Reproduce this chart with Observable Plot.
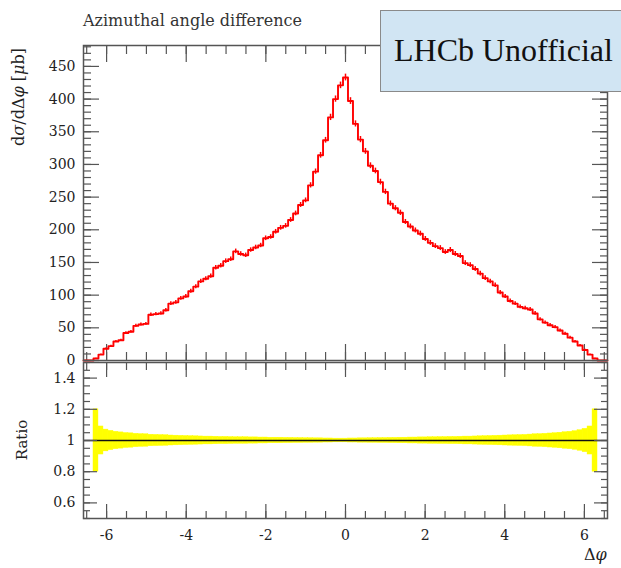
<!DOCTYPE html>
<html><head><meta charset="utf-8">
<script src="https://cdn.jsdelivr.net/npm/d3@7"></script>
<script src="https://cdn.jsdelivr.net/npm/@observablehq/plot@0.6"></script>
<style>
body{margin:0;background:#fff;}
#c{position:relative;width:621px;height:568px;overflow:hidden;font-family:"DejaVu Serif",serif;color:#222;}
#c svg{position:absolute;left:0;background:transparent;}
.lbl{position:absolute;white-space:nowrap;line-height:1;}
.rot{transform:translate(-50%,-50%) rotate(-90deg);}
#lhcb{position:absolute;left:380px;top:10px;width:260px;height:82px;background:#d1e5f3;border:1.5px solid #8a8a8a;box-sizing:border-box;font-family:"Liberation Serif",serif;font-size:32px;color:#111;padding-left:13px;line-height:79px;}
</style></head><body><div id="c"></div>
<script>
// ---- data ----
const title = "Azimuthal angle difference";
const xRange = [-6.58, 6.58];
const nBins = 105;
const xsec = [0, 0,
  3, 9, 18, 22, 29, 31, 42, 44, 53, 55, 56, 70, 71, 72, 77, 87, 89, 95, 98, 106,
  113, 121, 125, 129, 142, 145, 152, 155, 167, 163, 161, 169, 173, 176, 187, 189, 197, 203, 206, 215,
  225, 238, 245, 268, 289, 314, 337, 372, 400, 421,
  433,
  397, 362, 338, 320, 298, 290, 273, 258, 240, 233, 226, 212, 205, 199, 194, 186, 180, 175, 172, 166,
  169, 163, 160, 149, 146, 140, 133, 126, 121, 115, 104, 98, 91, 87, 82, 80, 78, 72, 63, 58,
  54, 51, 46, 41, 35, 29, 23, 16, 9, 3,
  0, 0];
const relErr = [null, null,
  0.20, 0.09, 0.07, 0.062, 0.056, 0.052, 0.048, 0.046, 0.043, 0.041, 0.040, 0.037, 0.036, 0.035, 0.034,
  0.032, 0.031, 0.030, 0.029, 0.028, 0.027, 0.026, 0.025, 0.025, 0.024, 0.023, 0.023, 0.022, 0.021, 0.021,
  0.021, 0.020, 0.020, 0.019, 0.019, 0.018, 0.018, 0.018, 0.017, 0.017, 0.016, 0.016, 0.015, 0.015, 0.014,
  0.014, 0.013, 0.013, 0.012, 0.012,
  0.012,
  0.013, 0.013, 0.014, 0.014, 0.015, 0.015, 0.016, 0.016, 0.017, 0.017, 0.018, 0.018, 0.019, 0.019, 0.020,
  0.020, 0.021, 0.021, 0.022, 0.022, 0.023, 0.023, 0.024, 0.025, 0.025, 0.026, 0.027, 0.028, 0.029, 0.030,
  0.031, 0.032, 0.033, 0.034, 0.035, 0.036, 0.038, 0.040, 0.041, 0.043, 0.045, 0.047, 0.050, 0.053, 0.056,
  0.060, 0.066, 0.075, 0.09, 0.20,
  null, null];
const xTicks = [-6, -4, -2, 0, 2, 4, 6];
const xTickLabels = ["-6", "-4", "-2", "0", "2", "4", "6"];
const yTicksTop = [0, 50, 100, 150, 200, 250, 300, 350, 400, 450];
const yTickLabelsTop = ["0", "50", "100", "150", "200", "250", "300", "350", "400", "450"];
const yTicksRatio = [0.6, 0.8, 1, 1.2, 1.4];
const yTickLabelsRatio = ["0.6", "0.8", "1", "1.2", "1.4"];
const yDomainTop = [0, 482];
const yDomainRatio = [0.5, 1.5];

// ---- derived structures ----
const edges = d3.range(nBins + 1).map(i => xRange[0] + i * (xRange[1] - xRange[0]) / nBins);
const bins = xsec.map((v, i) => ({x1: edges[i], x2: edges[i + 1], xc: (edges[i] + edges[i + 1]) / 2, v, e: relErr[i]}));
const stepPts = bins.flatMap(b => [{x: b.x1, y: b.v}, {x: b.x2, y: b.v}]);
const filled = bins.filter(b => b.e != null);
const xMinor = d3.range(-13, 14).map(i => i * 0.5);
const yMinorTop = d3.range(0, 49).map(i => i * 10);
const yMinorRatio = d3.range(10, 31).map(i => +(i * 0.05).toFixed(2));

const FONT = "DejaVu Serif";
function ticks(yMajor, yMinor, maj, min) {
  const st = {stroke: "#555", strokeWidth: 1.2, fill: "none", label: null};
  return [
    Plot.axisX(xMinor, {anchor: "top", tickSize: -min, ...st}),
    Plot.axisX(xTicks, {anchor: "top", tickSize: -maj, ...st}),
    Plot.axisX(xMinor, {anchor: "bottom", tickSize: -min, ...st}),
    Plot.axisX(xTicks, {anchor: "bottom", tickSize: -maj, ...st}),
    Plot.axisY(yMinor, {anchor: "left", tickSize: -min, ...st}),
    Plot.axisY(yMajor, {anchor: "left", tickSize: -maj, ...st}),
    Plot.axisY(yMinor, {anchor: "right", tickSize: -min, ...st}),
    Plot.axisY(yMajor, {anchor: "right", tickSize: -maj, ...st})
  ];
}

const W = 621;
const topPlot = Plot.plot({
  width: W, height: 362, marginLeft: 83, marginRight: 14, marginTop: 45, marginBottom: 2,
  x: {domain: xRange}, y: {domain: yDomainTop},
  style: {fontFamily: FONT, fontSize: "14px", color: "#222", background: "transparent", overflow: "visible"},
  marks: [
    ...ticks(yTicksTop, yMinorTop, 16, 8),
    Plot.axisY(yTicksTop, {anchor: "left", tickSize: 0, tickPadding: 8, label: null, fill: "#222",
      tickFormat: d => yTickLabelsTop[yTicksTop.indexOf(d)]}),
    Plot.ruleX(bins.filter(b => b.v > 0), {x: "xc", y1: d => d.v * (1 - d.e), y2: d => d.v * (1 + d.e), stroke: "#ff0000", strokeWidth: 1.5}),
    Plot.line(stepPts, {x: "x", y: "y", stroke: "#ff0000", strokeWidth: 1.9}),
    Plot.frame({stroke: "#555", strokeWidth: 1.5})
  ]
});

const botPlot = Plot.plot({
  width: W, height: 208, marginLeft: 83, marginRight: 14, marginTop: 2, marginBottom: 50,
  x: {domain: xRange}, y: {domain: yDomainRatio},
  style: {fontFamily: FONT, fontSize: "14px", color: "#222", background: "transparent", overflow: "visible"},
  marks: [
    Plot.rect(filled, {x1: "x1", x2: "x2", y1: d => 1 - d.e, y2: d => 1 + d.e, fill: "#ffff00", stroke: "#ffff00", strokeWidth: 0.4}),
    Plot.ruleY([1], {stroke: "#111", strokeWidth: 1.3}),
    ...ticks(yTicksRatio, yMinorRatio, 14, 7),
    Plot.axisY(yTicksRatio, {anchor: "left", tickSize: 0, tickPadding: 8, label: null, fill: "#222",
      tickFormat: d => yTickLabelsRatio[yTicksRatio.indexOf(d)]}),
    Plot.axisX(xTicks, {anchor: "bottom", tickSize: 0, tickPadding: 12, label: null, fill: "#222",
      tickFormat: d => xTickLabels[xTicks.indexOf(d)]}),
    Plot.frame({stroke: "#555", strokeWidth: 1.5})
  ]
});

const c = document.getElementById("c");
topPlot.style.top = "0px";
botPlot.style.top = "360px";
c.appendChild(topPlot);
c.appendChild(botPlot);

function addLabel(html, css, cls) {
  const d = document.createElement("div");
  d.className = "lbl " + (cls || "");
  d.innerHTML = html;
  Object.assign(d.style, css);
  c.appendChild(d);
  return d;
}
addLabel(title, {left: "83px", top: "13px", fontSize: "16px", color: "#333"});
addLabel('d<i>σ</i>/dΔ<i>φ</i> [<i>μ</i>b]', {left: "19px", top: "97px", fontSize: "16px"}, "rot");
addLabel('Ratio', {left: "22px", top: "440px", fontSize: "15px"}, "rot");
addLabel('Δ<i>φ</i>', {left: "584px", top: "547px", fontSize: "16px"});
const box = document.createElement("div");
box.id = "lhcb";
box.textContent = "LHCb Unofficial";
c.appendChild(box);
</script></body></html>
